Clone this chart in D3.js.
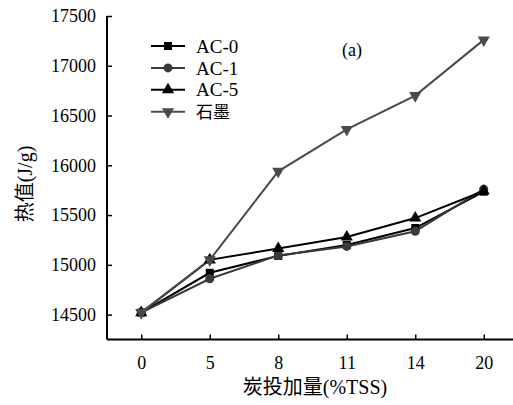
<!DOCTYPE html>
<html>
<head>
<meta charset="utf-8">
<script src="https://cdn.jsdelivr.net/npm/d3@7"></script>
<style>
  body { margin: 0; background: #fff; }
</style>
</head>
<body>
<div id="chart"></div>
<script>
// carbon dosage categories (%TSS)
const categories = ["0", "5", "8", "11", "14", "20"];
const seriesNames = ["AC-0", "AC-1", "AC-5", "石墨"];
const ac0 = [14520, 14920, 15090, 15200, 15370, 15735];
const ac1 = [14520, 14860, 15095, 15185, 15338, 15760];
const ac5 = [14520, 15050, 15165, 15280, 15470, 15742];
const graphite = [14520, 15050, 15940, 16360, 16700, 17260];
const yTicks = [14500, 15000, 15500, 16000, 16500, 17000, 17500];

const SERIF = "'Liberation Serif', 'Times New Roman', serif";
const CJK = "'Noto Sans CJK SC', sans-serif";

const series = [
  { name: seriesNames[0], values: ac0, color: "#000", symbol: d3.symbolSquare, size: 64, rot: 0 },
  { name: seriesNames[1], values: ac1, color: "#3a3a3a", symbol: d3.symbolCircle, size: 64, rot: 0 },
  { name: seriesNames[2], values: ac5, color: "#000", symbol: d3.symbolTriangle, size: 64, rot: 0 },
  { name: seriesNames[3], values: graphite, color: "#4a4a4a", symbol: d3.symbolTriangle, size: 64, rot: 180 }
];

const W = 513, H = 405;
const svg = d3.select("#chart").append("svg")
  .attr("width", W).attr("height", H);

const x = d3.scalePoint()
  .domain(categories)
  .range([107, 518])
  .padding(0.5);

const y = d3.scaleLinear()
  .domain([14250, 17500])
  .range([339.5, 16]);

// y axis
const yAxis = svg.append("g")
  .attr("transform", "translate(107,0)")
  .call(d3.axisLeft(y).tickValues(yTicks).tickFormat(d3.format("d"))
    .tickSizeInner(-5).tickSizeOuter(0).tickPadding(11));
yAxis.select(".domain").attr("stroke-width", 2)
  .attr("d", "M0," + y(17500) + "V" + y(14250));

// x axis
const xAxis = svg.append("g")
  .attr("transform", "translate(0,339.5)")
  .call(d3.axisBottom(x).tickSizeInner(-5).tickSizeOuter(0).tickPadding(17));
xAxis.select(".domain").attr("stroke-width", 2)
  .attr("d", "M107,0H" + W);

svg.selectAll(".tick line").attr("stroke-width", 1.5);
svg.selectAll(".tick text").attr("font-size", 18).attr("fill", "#000")
  .style("font-family", SERIF);

// lines and markers
const line = d3.line()
  .x((d, i) => x(categories[i]))
  .y(d => y(d));

series.forEach(s => {
  svg.append("path")
    .datum(s.values)
    .attr("fill", "none")
    .attr("stroke", s.color)
    .attr("stroke-width", 2)
    .attr("d", line);
});

series.forEach(s => {
  svg.append("g").selectAll("path")
    .data(s.values)
    .enter()
    .append("path")
    .attr("d", d3.symbol().type(s.symbol).size(s.size))
    .attr("fill", s.color)
    .attr("transform", (d, i) => "translate(" + x(categories[i]) + "," + y(d) + ") rotate(" + s.rot + ")");
});

// legend
const legend = svg.append("g").attr("transform", "translate(151,46)");
series.forEach((s, i) => {
  const g = legend.append("g").attr("transform", "translate(0," + (i * 21.9) + ")");
  g.append("line").attr("x1", 0).attr("x2", 34).attr("y1", 0).attr("y2", 0)
    .attr("stroke", s.color).attr("stroke-width", 2);
  g.append("path")
    .attr("d", d3.symbol().type(s.symbol).size(s.size))
    .attr("fill", s.color)
    .attr("transform", "translate(17,0) rotate(" + s.rot + ")");
  g.append("text")
    .attr("x", 45).attr("y", 0).attr("dy", "0.35em")
    .attr("font-size", i === 3 ? 17 : 19)
    .style("font-family", i === 3 ? CJK : SERIF)
    .text(s.name);
});

svg.append("text")
  .attr("x", 352).attr("y", 50).attr("dy", "0.35em")
  .attr("text-anchor", "middle").attr("font-size", 18)
  .style("font-family", SERIF)
  .text("(a)");

// axis titles
const xt = svg.append("text")
  .attr("x", 315).attr("y", 394)
  .attr("text-anchor", "middle").attr("font-size", 20)
  .style("font-family", SERIF);
xt.append("tspan").style("font-family", CJK).text("炭投加量");
xt.append("tspan").text("(%TSS)");

const yt = svg.append("text")
  .attr("transform", "translate(32,184) rotate(-90)")
  .attr("text-anchor", "middle").attr("font-size", 20)
  .style("font-family", SERIF);
yt.append("tspan").style("font-family", CJK).text("热值");
yt.append("tspan").text("(J/g)");
</script>
</body>
</html>
